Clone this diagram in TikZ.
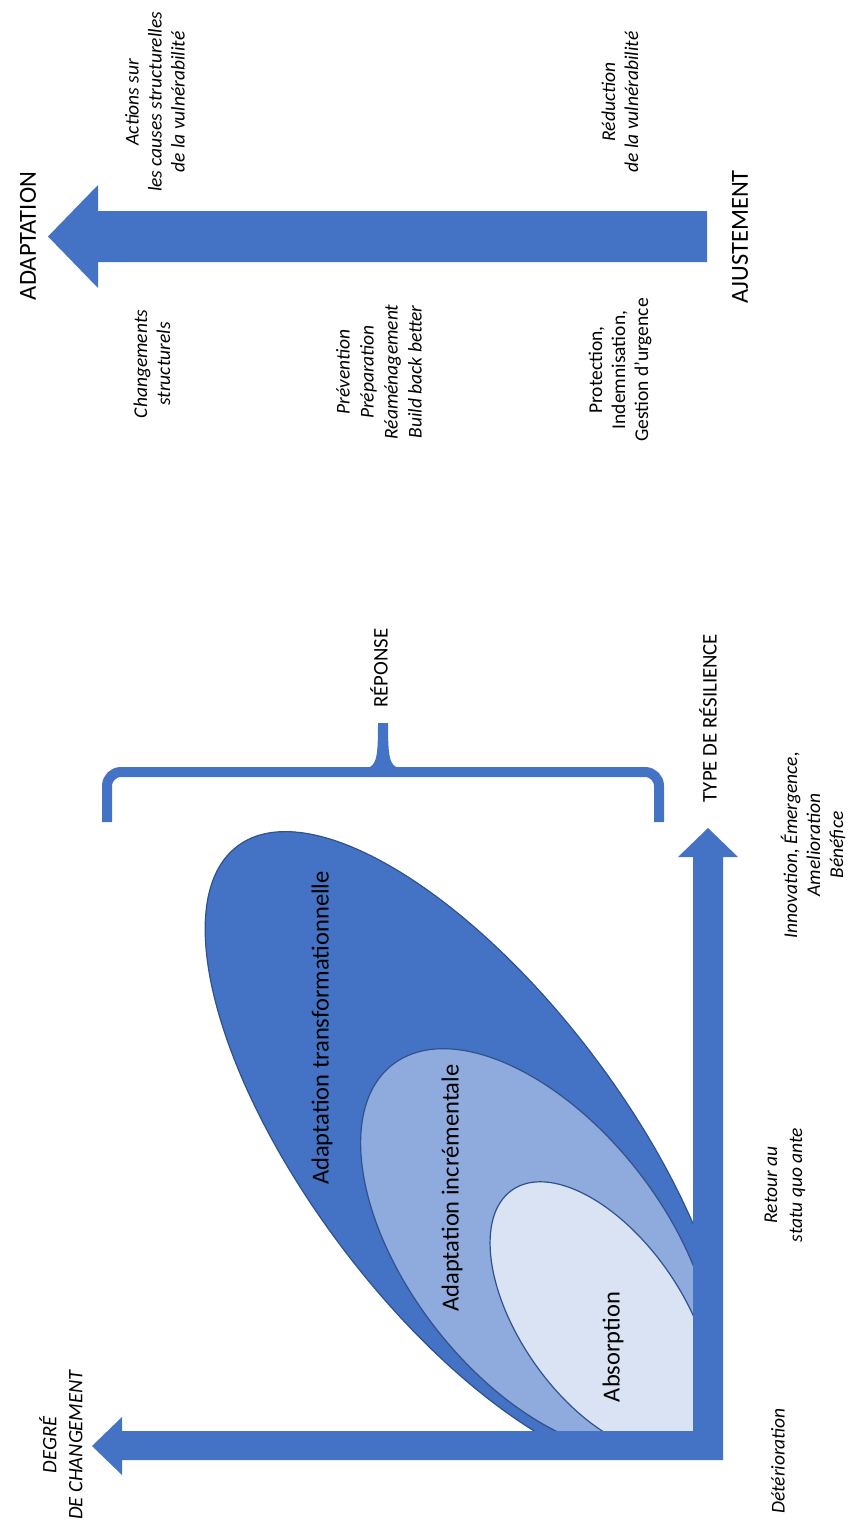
\documentclass[tikz,border=0pt]{standalone}
\usepackage{fontspec}
\setmainfont{Carlito}
\usepackage{xcolor}
\usepackage{tikz}
\usetikzlibrary{positioning}
\definecolor{barblue}{HTML}{4472C4}
\definecolor{midblue}{HTML}{8FAADC}
\definecolor{paleblue}{HTML}{DAE3F3}
\definecolor{rimblue}{HTML}{2F528F}
\tikzset{
  vtext/.style={
      rotate=90,
      inner sep=0pt,
      align=center,
      text=black
    },
  note/.style={vtext, font=\fontsize{19.5}{23}\selectfont\itshape},
  plainnote/.style={vtext, font=\fontsize{19.5}{23}\selectfont},
  bigcaps/.style={vtext, font=\fontsize{24.5}{28}\selectfont},
  midcaps/.style={vtext, font=\fontsize{20.8}{24}\selectfont},
  zone/.style={vtext, font=\fontsize{24.5}{28}\selectfont},
  blob/.style={draw=rimblue, line width=1.2pt}
}

\begin{document}
\begin{tikzpicture}[x=1pt,y=-1pt]
\useasboundingbox (0,0) rectangle (849,1526);
% the shapes
\begin{scope}
\clip (0,0) rectangle (693,1431);
\path[blob, fill=barblue, rotate around={-53:(468,1152)}]
  (468,1152) ellipse [x radius=383pt, y radius=158pt];
\path[blob, fill=midblue, rotate around={-52:(537,1250)}]
  (537,1250) ellipse [x radius=235pt, y radius=128pt];
\path[blob, fill=paleblue, rotate around={-55:(601,1317)}]
  (601,1317) ellipse [x radius=155pt, y radius=81pt];
\end{scope}
\node[zone] at (322,1028) (transfo) {Adaptation transformationnelle};
\node[zone] at (452,1188) (increm) {Adaptation incrémentale};
\node[zone] at (613,1347) (absorp) {Absorption};

%the arrows
\fill[barblue]
  (707,211) -- (98,211) -- (98,185) -- (48,236.5)
  -- (98,288) -- (98,262) -- (707,262) -- cycle;
\fill[barblue]
  (708,828) -- (738,857) -- (723,857) -- (723,1460)
  -- (122,1460) -- (122,1475) -- (92,1446) -- (122,1417)
  -- (122,1431) -- (693,1431) -- (693,857) -- (678,857) -- cycle;

%the brace
\draw[barblue, line width=10pt, rounded corners=14pt]
  (107,822) -- (107,772) -- (659,772) -- (659,822);
\fill[barblue]
  (366,768) .. controls (377,767) and (378,755) .. (378,723)
  -- (388,723) .. controls (388,755) and (389,767) .. (400,768) -- cycle;

% the labels
\node[bigcaps] at (28,236) (adapt) {ADAPTATION};
\node[bigcaps] at (740,237) (ajust) {AJUSTEMENT};
\node[note] at (155,102) (actions)
  {Actions sur\\les causes structurelles\\de la vulnérabilité};
\node[note] at (152,364) (chgt) {Changements\\structurels};
\node[note, font=\fontsize{19.5}{24}\selectfont\itshape] at (379,372) (prev)
  {Prévention\\Préparation\\Réaménagement\\Build back better};
\node[note] at (620,102) (reduc) {Réduction\\de la vulnérabilité};
\node[plainnote] at (620,370) (protec)
  {Protection,\\Indemnisation,\\Gestion d’urgence};
\node[midcaps] at (379,668) (reponse) {RÉPONSE};
\node[midcaps] at (708,718) (typeres) {TYPE DE RÉSILIENCE};
\node[note] at (813,845) (innov)
  {Innovation, Émergence,\\Amelioration\\Bénéfice};
\node[note, font=\fontsize{19.5}{25}\selectfont\itshape] at (785,1185) (retour)
  {Retour au\\statu quo ante};
\node[note] at (778,1461) (deter) {Détérioration};
\node[note, font=\fontsize{20.5}{26}\selectfont\itshape] at (61,1445) (degre)
  {DEGRÉ\\DE CHANGEMENT};
\end{tikzpicture}
\end{document}
